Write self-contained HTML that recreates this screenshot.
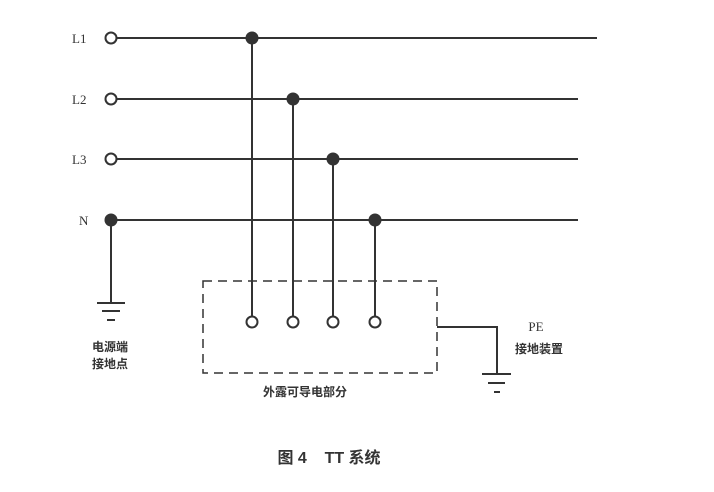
<!DOCTYPE html>
<html><head><meta charset="utf-8"><style>
html,body{margin:0;padding:0;background:#fff;}
svg{display:block;}
text{font-family:"Liberation Serif","Noto Serif CJK SC",serif;fill:#333;}
.c{font-family:"Liberation Sans","Noto Sans CJK SC",sans-serif;font-weight:bold;}
</style></head><body>
<svg width="714" height="492" viewBox="0 0 714 492" xmlns="http://www.w3.org/2000/svg">
<g stroke="#333" stroke-width="2" fill="none">
<line x1="116" y1="38" x2="597" y2="38"/>
<line x1="116" y1="99" x2="578" y2="99"/>
<line x1="116" y1="159" x2="578" y2="159"/>
<line x1="111" y1="220" x2="578" y2="220"/>
<line x1="252" y1="38" x2="252" y2="317"/>
<line x1="293" y1="99" x2="293" y2="317"/>
<line x1="333" y1="159" x2="333" y2="317"/>
<line x1="375" y1="220" x2="375" y2="317"/>
<line x1="111" y1="220" x2="111" y2="303"/>
<line x1="97" y1="303" x2="125" y2="303"/>
<line x1="102" y1="311" x2="120" y2="311"/>
<line x1="107" y1="320" x2="115" y2="320"/>
<polyline points="437,327 497,327 497,374"/>
<line x1="482" y1="374" x2="511" y2="374"/>
<line x1="488" y1="383" x2="505" y2="383"/>
<line x1="494" y1="392" x2="500" y2="392"/>
<rect x="203" y="281" width="234" height="92" stroke-width="1.5" stroke-dasharray="9,6"/>
<circle cx="111" cy="38" r="5.5" fill="#fff"/>
<circle cx="111" cy="99" r="5.5" fill="#fff"/>
<circle cx="111" cy="159" r="5.5" fill="#fff"/>
<circle cx="252" cy="322" r="5.5" fill="#fff"/>
<circle cx="293" cy="322" r="5.5" fill="#fff"/>
<circle cx="333" cy="322" r="5.5" fill="#fff"/>
<circle cx="375" cy="322" r="5.5" fill="#fff"/>
</g>
<g fill="#333">
<circle cx="252" cy="38" r="6.5"/>
<circle cx="293" cy="99" r="6.5"/>
<circle cx="333" cy="159" r="6.5"/>
<circle cx="375" cy="220" r="6.5"/>
<circle cx="111" cy="220" r="6.5"/>
</g>
<text x="72" y="43" font-size="13">L1</text>
<text x="72" y="104" font-size="13">L2</text>
<text x="72" y="164" font-size="13">L3</text>
<text x="79" y="225" font-size="13">N</text>
<text class="c" x="110" y="351" font-size="12" text-anchor="middle">电源端</text>
<text class="c" x="110" y="368" font-size="12" text-anchor="middle">接地点</text>
<text x="536" y="331" font-size="13" text-anchor="middle">PE</text>
<text class="c" x="539" y="353" font-size="12" text-anchor="middle">接地装置</text>
<text class="c" x="305" y="396" font-size="12" text-anchor="middle">外露可导电部分</text>
<text class="c" x="329" y="463" font-size="16" text-anchor="middle">图 4 &#160;&#160; TT 系统</text>
</svg>
</body></html>
